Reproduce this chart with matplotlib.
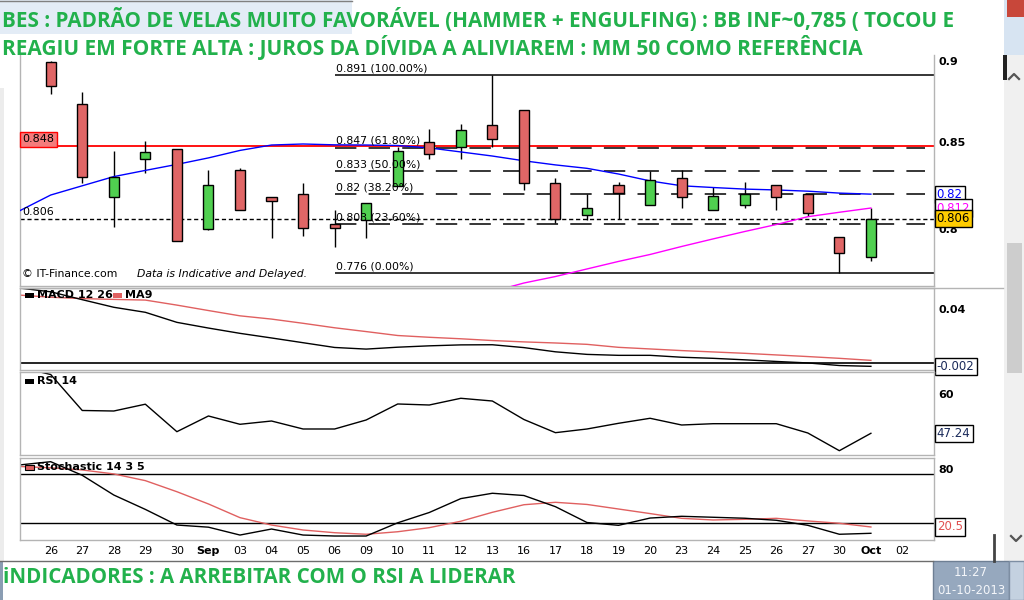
import numpy as np
import matplotlib
matplotlib.use("Agg")
import matplotlib.pyplot as plt
from matplotlib.patches import Rectangle
from matplotlib.ticker import NullLocator
from matplotlib.transforms import blended_transform_factory

# ---- data -------------------------------------------------------------
date_labels = ["26", "27", "28", "29", "30", "Sep", "03", "04", "05", "06",
               "09", "10", "11", "12", "13", "16", "17", "18", "19", "20",
               "23", "24", "25", "26", "27", "30", "Oct", "02"]
bold_labels = ["Sep", "Oct"]

opens = [0.8989, 0.8730, 0.8181, 0.8401, 0.8462, 0.8000, 0.8339, 0.8181, 0.8198,
         0.8028, 0.8052, 0.8248, 0.8501, 0.8473, 0.8603, 0.8693, 0.8261, 0.8079,
         0.8253, 0.8136, 0.8292, 0.8107, 0.8136, 0.8253, 0.8198, 0.7956, 0.7846]
highs = [0.8999, 0.8803, 0.8450, 0.8509, 0.8462, 0.8339, 0.8348, 0.8181, 0.8263,
         0.8109, 0.8147, 0.8475, 0.8581, 0.8610, 0.8910, 0.8693, 0.8290, 0.8198,
         0.8267, 0.8333, 0.8339, 0.8240, 0.8269, 0.8253, 0.8198, 0.7956, 0.8119]
lows = [0.8791, 0.8265, 0.8015, 0.8319, 0.7937, 0.7996, 0.8107, 0.7954, 0.7965,
        0.7904, 0.7950, 0.8248, 0.8401, 0.8401, 0.8475, 0.8223, 0.8037, 0.8052,
        0.8056, 0.8136, 0.8119, 0.8107, 0.8119, 0.8107, 0.8075, 0.7760, 0.7827]
closes = [0.8842, 0.8296, 0.8296, 0.8442, 0.7937, 0.8250, 0.8107, 0.8158, 0.8006,
          0.8006, 0.8147, 0.8450, 0.8430, 0.8573, 0.8519, 0.8261, 0.8056, 0.8119,
          0.8207, 0.8281, 0.8181, 0.8189, 0.8198, 0.8185, 0.8090, 0.7868, 0.8060]

# indicator series start one session before the first candle (index -1)
mm50 = [0.8103, 0.8194, 0.8247, 0.8300, 0.8336, 0.8371, 0.8409, 0.8453, 0.8485,
        0.8491, 0.8486, 0.8485, 0.8482, 0.8468, 0.8444, 0.8420, 0.8392, 0.8368,
        0.8348, 0.8315, 0.8275, 0.8247, 0.8237, 0.8228, 0.8223, 0.8216, 0.8205,
        0.8199]
bb_x = list(range(14, 27))
bb_low = [0.7660, 0.7706, 0.7741, 0.7782, 0.7823, 0.7861, 0.7905, 0.7947, 0.7988,
          0.8027, 0.8071, 0.8096, 0.8120]

macd = [0.0555, 0.0527, 0.0469, 0.0413, 0.0376, 0.0302, 0.0260, 0.0221, 0.0187,
        0.0152, 0.0117, 0.0105, 0.0119, 0.0129, 0.0136, 0.0137, 0.0116, 0.0085,
        0.0066, 0.0059, 0.0059, 0.0045, 0.0037, 0.0026, 0.0014, 0.0003, -0.0016,
        -0.0022]
macd_ma9 = [0.0503, 0.0487, 0.0477, 0.0471, 0.0466, 0.0429, 0.0389, 0.0350, 0.0326,
            0.0295, 0.0262, 0.0234, 0.0205, 0.0192, 0.0181, 0.0168, 0.0158, 0.0150,
            0.0140, 0.0118, 0.0106, 0.0094, 0.0084, 0.0074, 0.0062, 0.0050, 0.0037,
            0.0022]
rsi = [68.66, 66.23, 54.61, 54.44, 56.64, 47.76, 52.83, 50.15, 51.21, 48.63, 48.63,
       51.54, 56.71, 56.38, 58.55, 57.67, 51.70, 47.44, 48.63, 50.47, 52.09, 49.92,
       50.34, 50.34, 50.34, 47.34, 41.62, 47.24]
stoch_k = [84.3, 87.7, 73.7, 53.4, 38.6, 22.5, 20.3, 12.2, 18.4, 12.2, 11.2, 11.2,
           24.8, 35.4, 49.7, 55.2, 52.9, 41.4, 25.1, 22.2, 29.7, 31.5, 30.5, 29.5,
           27.4, 22.2, 13.0, 14.0]
stoch_d = [82.8, 81.4, 79.2, 75.1, 68.2, 56.8, 44.2, 30.1, 22.5, 17.4, 14.6, 13.0,
           15.6, 19.8, 26.4, 35.6, 43.4, 45.9, 43.7, 39.0, 34.3, 29.4, 27.7, 28.4,
           29.4, 26.7, 24.3, 20.5]

fib_levels = [0.891, 0.847, 0.833, 0.82, 0.803, 0.776]
fib_labels = ["0.891 (100.00%)", "0.847 (61.80%)", "0.833 (50.00%)",
              "0.82 (38.20%)", "0.803 (23.60%)", "0.776 (0.00%)"]
fib_start = 9
support_line = 0.848
last_close_line = 0.806

title_1 = "BES : PADRÃO DE VELAS MUITO FAVORÁVEL (HAMMER + ENGULFING) : BB INF~0,785 ( TOCOU E"
title_2 = "REAGIU EM FORTE ALTA : JUROS DA DÍVIDA A ALIVIAREM : MM 50 COMO REFERÊNCIA"
bottom_note = "iNDICADORES : A ARREBITAR COM O RSI A LIDERAR"

# ---- layout helpers -----------------------------------------------------
W, H = 1024, 600
GREEN = "#22b14c"
FRAME = "#b4b4b4"
CANDLE_UP = "#50d050"
CANDLE_DN = "#e06666"
SOFT_RED = "#e06060"


def rect(x0, y0, x1, y1):
    return [x0 / W, 1 - y1 / H, (x1 - x0) / W, (y1 - y0) / H]


plt.rcParams["font.family"] = ["DejaVu Sans"]
fig = plt.figure(figsize=(W / 100, H / 100), dpi=100)
fig.patch.set_facecolor("white")

n = len(closes)
xs = np.arange(n)
line_x = np.arange(-1, n)
x_left, x_right = -0.973, 28.0


def style_panel(ax, top=True):
    ax.set_xlim(x_left, x_right)
    for side, sp in ax.spines.items():
        sp.set_color(FRAME)
        sp.set_linewidth(1)
    ax.spines["top"].set_visible(top)
    ax.set_xticks([])
    ax.yaxis.tick_right()
    ax.tick_params(axis="y", length=0, pad=3, labelsize=8)
    for lab in ax.get_yticklabels():
        lab.set_fontweight("bold")


def value_box(ax, y, text, color, face="white", z=5):
    tr = blended_transform_factory(ax.transAxes, ax.transData)
    ax.text(1.003, y, text, transform=tr, va="center", ha="left", fontsize=8.5,
            color=color, clip_on=False, zorder=z,
            bbox=dict(boxstyle="square,pad=0.18", fc=face, ec="black", lw=1))


# ---- price panel ----------------------------------------------------------
ax_p = fig.add_axes(rect(20, 55, 934, 286))
ax_p.set_yscale("log")
ax_p.set_ylim(0.7690, 0.9035)

o = np.array(opens)
c = np.array(closes)
up = c >= o
body_lo = np.minimum(o, c)
body_hi = np.maximum(o, c)
ax_p.vlines(xs, lows, highs, color="black", lw=1, zorder=3)
ax_p.bar(xs, body_hi - body_lo, bottom=body_lo, width=0.32,
         color=np.where(up, CANDLE_UP, CANDLE_DN), edgecolor="black", lw=1, zorder=4)

ax_p.plot(line_x, mm50, color="#0000ff", lw=1, zorder=3)
ax_p.plot(bb_x, bb_low, color="#ff00ff", lw=1, zorder=3)

ax_p.axhline(support_line, color="#ff0000", lw=1.3, zorder=2)
ax_p.axhline(last_close_line, color="black", lw=1, ls=(0, (3, 2)), zorder=2)

for i, (lvl, lab) in enumerate(zip(fib_levels, fib_labels)):
    if i in (0, len(fib_levels) - 1):
        ax_p.hlines(lvl, fib_start, x_right, color="black", lw=1.1, zorder=2)
    else:
        ax_p.hlines(lvl, fib_start, 27.7, color="black", lw=1.1,
                    linestyles=[(0, (14, 8))], zorder=2)
    ax_p.text(fib_start + 0.05, lvl * 1.0012, lab,
              fontsize=7.8, va="bottom", ha="left", zorder=6)

trp = blended_transform_factory(ax_p.transAxes, ax_p.transData)
ax_p.text(0.0025, support_line * 1.001, f"{support_line:.3f}", transform=trp,
          fontsize=8, va="bottom", ha="left", zorder=6,
          bbox=dict(boxstyle="square,pad=0.25", fc="#f47c7c", ec="#ff0000", lw=1))
ax_p.text(0.002, last_close_line * 1.0015, f"{last_close_line:.3f}", transform=trp,
          fontsize=8, va="bottom", ha="left", zorder=6)
ax_p.text(0.002, 0.03, "© IT-Finance.com", transform=ax_p.transAxes,
          fontsize=7.8, va="bottom", ha="left")
ax_p.text(0.128, 0.03, "Data is Indicative and Delayed.", transform=ax_p.transAxes,
          fontsize=7.8, va="bottom", ha="left", style="italic")

ax_p.set_yticks([0.8, 0.85, 0.9])
ax_p.set_yticklabels(["0.8", "0.85", "0.9"])
ax_p.yaxis.set_minor_locator(NullLocator())
style_panel(ax_p, top=False)

value_box(ax_p, mm50[-1], f"{mm50[-1]:.2f}", "#0000ff", z=5)
value_box(ax_p, bb_low[-1], f"{bb_low[-1]:.3f}", "#ff00ff", z=6)
value_box(ax_p, closes[-1], f"{closes[-1]:.3f}", "black", face="#ffcc00", z=7)

# ---- MACD -----------------------------------------------------------------
ax_m = fig.add_axes(rect(20, 288, 934, 370))
ax_m.set_ylim(-0.0049, 0.0555)
ax_m.axhline(0, color="black", lw=1.2)
ax_m.plot(line_x, macd_ma9, color=SOFT_RED, lw=1)
ax_m.plot(line_x, macd, color="black", lw=1)
ax_m.set_yticks([0.04])
ax_m.set_yticklabels(["0.04"])
style_panel(ax_m)
value_box(ax_m, macd[-1], f"{macd[-1]:.3f}", "#1a2a5a")

# ---- RSI ------------------------------------------------------------------
ax_r = fig.add_axes(rect(20, 372, 934, 455))
ax_r.set_ylim(40.23, 67.04)
ax_r.plot(line_x, rsi, color="black", lw=1)
ax_r.set_yticks([60])
ax_r.set_yticklabels(["60"])
style_panel(ax_r)
value_box(ax_r, rsi[-1], f"{rsi[-1]:.2f}", "#1a2a5a")

# ---- Stochastic -----------------------------------------------------------
ax_s = fig.add_axes(rect(20, 458, 934, 540))
ax_s.set_ylim(7.1, 91.5)
ax_s.axhline(75, color="black", lw=1)
ax_s.axhline(25, color="black", lw=1)
ax_s.plot(line_x, stoch_d, color=SOFT_RED, lw=1)
ax_s.plot(line_x, stoch_k, color="black", lw=1)
ax_s.set_yticks([80])
ax_s.set_yticklabels(["80"])
style_panel(ax_s)
ax_s.set_xticks(np.arange(len(date_labels)))
ax_s.set_xticklabels(date_labels, fontsize=8)
ax_s.tick_params(axis="x", length=0, pad=4)
for lab in ax_s.get_xticklabels():
    if lab.get_text() in bold_labels:
        lab.set_fontweight("bold")
value_box(ax_s, stoch_d[-1], f"{stoch_d[-1]:.1f}", "#e05050")

# ---- overlay: window chrome, legends, annotations ------------------------
ov = fig.add_axes([0, 0, 1, 1])
ov.set_xlim(0, W)
ov.set_ylim(H, 0)
ov.axis("off")
ov.patch.set_alpha(0)


def box(x0, y0, x1, y1, **kw):
    ov.add_patch(Rectangle((x0, y0), x1 - x0, y1 - y0, **kw))


box(0, 0, 352, 34, fc="#e3ecf6", ec="none")
ov.plot([0, 352], [0.5, 0.5], color="#808080", lw=1)
box(1004, 0, 1024, 55, fc="#d7e4f2", ec="none")
box(1007, 0, 1024, 17, fc="#c8473a", ec="none")
box(0, 88, 4, 561, fc="#ececec", ec="none")
box(1004, 55, 1024, 561, fc="#f0f0f0", ec="none")
box(1007, 243, 1022, 373, fc="#cdcdcd", ec="none")
box(1003, 55, 1007, 80, fc="#222222", ec="none")
ov.plot([1009, 1014, 1019], [79, 74, 79], color="#555555", lw=1.6)
ov.plot([1011, 1016, 1021], [536, 541, 536], color="#555555", lw=1.6)
ov.plot([993.5, 993.5], [535, 561], color="#444444", lw=2)
ov.plot([20, 1003], [287.5, 287.5], color=FRAME, lw=1)

# taskbar strip
ov.plot([0, 933], [561, 561], color="#6d6d6d", lw=1)
box(0, 561, 2.5, 600, fc="#8a9db3", ec="none")
box(933, 561, 1009, 600, fc="#96a8be", ec="#6e7f94", lw=1)
box(1009, 561, 1024, 600, fc="#c4d1e0", ec="#7d8ea3", lw=1)
ov.text(971, 573, "11:27", fontsize=8.5, color="#f4f6fa", ha="center", va="center")
ov.text(971, 591, "01-10-2013", fontsize=8.5, color="#f4f6fa", ha="center", va="center")

# panel legends
box(25, 293, 34, 297.5, fc="black", ec="none")
ov.text(37, 295.5, "MACD 12 26", fontsize=8, fontweight="bold", va="center")
box(113, 293, 122, 297.5, fc=SOFT_RED, ec="none")
ov.text(125, 295.5, "MA9", fontsize=8, fontweight="bold", va="center")
box(25, 379, 34, 383.5, fc="black", ec="none")
ov.text(37, 381.5, "RSI 14", fontsize=8, fontweight="bold", va="center")
box(25, 465, 34, 469.5, fc=SOFT_RED, ec="black", lw=0.8)
ov.text(37, 466.5, "Stochastic 14 3 5", fontsize=8, fontweight="bold", va="center")

# green annotations
renderer = fig.canvas.get_renderer()


def fitted_text(x, y, s, width):
    t = ov.text(x, y, s, fontsize=16, color=GREEN, fontweight="bold",
                family=["Open Sans", "DejaVu Sans"], va="baseline", ha="left")
    w = t.get_window_extent(renderer=renderer).width
    t.set_fontsize(16 * width / w)
    return t


fitted_text(2, 27, title_1, 950)
fitted_text(2, 55, title_2, 861)
fitted_text(3, 583, bottom_note, 513)

fig.savefig("out.png", dpi=100, facecolor="white")
